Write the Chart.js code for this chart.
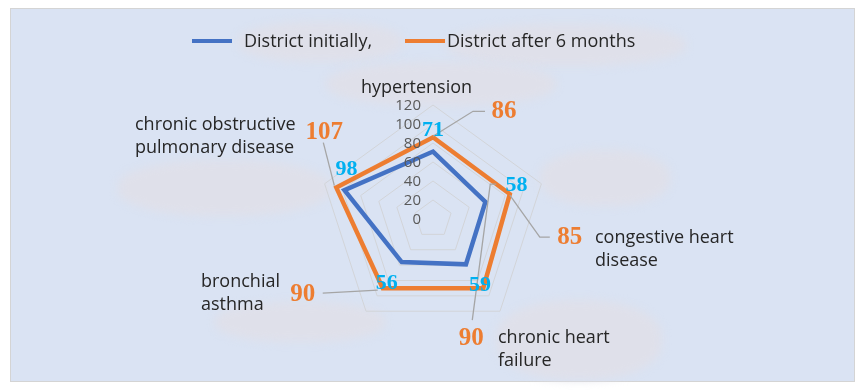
<!DOCTYPE html>
<html>
<head>
<meta charset="utf-8">
<script src="https://cdn.jsdelivr.net/npm/chart.js@4.4.1/dist/chart.umd.min.js"></script>
<style>
  html, body { margin: 0; padding: 0; background: #ffffff; }
  #wrap { position: relative; width: 865px; height: 392px; overflow: hidden; }
  #panel { position: absolute; left: 10px; top: 8px; width: 843px; height: 372px; background: #dae3f3; border: 1px solid #d4d4d4; }
  .blob { position: absolute; background: #dfe0ea; border-radius: 45%; filter: blur(4px); }
  #chart { position: absolute; left: 0; top: 0; }
  #legend { position: absolute; left: 0; top: 0; font-family: "Open Sans", sans-serif; font-size: 18px; color: #262626; }
  .lg-line { position: absolute; height: 4px; }
  .lg-text { position: absolute; white-space: nowrap; line-height: 20px; }
</style>
</head>
<body>
<div id="wrap">
  <div id="panel"></div>
  <div class="blob" style="left:238px;top:22px;width:165px;height:40px;"></div>
  <div class="blob" style="left:446px;top:24px;width:240px;height:42px;"></div>
  <div class="blob" style="left:326px;top:62px;width:230px;height:44px;"></div>
  <div class="blob" style="left:540px;top:150px;width:130px;height:56px;"></div>
  <div class="blob" style="left:118px;top:160px;width:212px;height:56px;"></div>
  <div class="blob" style="left:496px;top:300px;width:166px;height:80px;"></div>
  <div class="blob" style="left:215px;top:302px;width:170px;height:40px;"></div>
  <canvas id="chart" width="865" height="392"></canvas>
  <div id="legend"></div>
</div>
<script>
// categories, series, scale
const categories = ["hypertension", "congestive heart disease", "chronic heart failure", "bronchial asthma", "chronic obstructive pulmonary disease"];
const categoryLines = [["hypertension"], ["congestive heart", "disease"], ["chronic heart", "failure"], ["bronchial", "asthma"], ["chronic obstructive", "pulmonary disease"]];
const seriesNames = ["District initially,", "District after 6 months"];
const initialValues = [71, 58, 59, 56, 98];
const afterValues = [86, 85, 90, 90, 107];
const scaleMin = 0;
const scaleMax = 120;
const scaleStep = 20;

const BLUE = "#4472c4";
const ORANGE = "#ed7d31";
const LABEL_BLUE = "#00b0f0";

// label placement (offsets from the data point), Excel-style dragged labels
const blueLabelOffsets = [[0, -21], [31, -17], [14, 21], [-15, 21], [2, -21]];
const orangeLabelOffsets = [[71, -26], [60, 43], [-12, 50], [-80, 6], [-12, -55]];
const orangeLeaders = [
  [[52, -26], [40, -26], [0, -1]],
  [[40, 43], [30, 43], [0, 1]],
  [[-11, 32], [7, -104], [13, -104]],
  [[-60, 5], [-5, 2]],
  [[-13, -45], [-2, -2]],
];
// category label offsets from scale centre (left edge, first line middle)
const catOffsets = [[-72, -131], [162, 19], [65, 119], [-232, 63], [-298, -94]];

// HTML legend
const legendEl = document.getElementById("legend");
const legendPos = [{ line: 192, text: 244 }, { line: 405, text: 447 }];
[BLUE, ORANGE].forEach((c, i) => {
  legendEl.innerHTML += `<div class="lg-line" style="left:${legendPos[i].line}px;top:39px;width:40px;background:${c}"></div>` +
    `<div class="lg-text" style="left:${legendPos[i].text}px;top:30px">${seriesNames[i]}</div>`;
});

const annotate = {
  id: "annotate",
  afterDatasetsDraw(chart) {
    const ctx = chart.ctx;
    const r = chart.scales.r;
    const pt = (i, v) => r.getPointPositionForValue(i, v);

    // tick labels, right aligned left of the vertical axis
    ctx.save();
    ctx.font = '15px "Open Sans", sans-serif';
    ctx.fillStyle = "#595959";
    ctx.textAlign = "right";
    ctx.textBaseline = "middle";
    r.ticks.forEach((t) => {
      const d = r.getDistanceFromCenterForValue(t.value);
      ctx.fillText(t.label, r.xCenter - 12, r.yCenter - d + 1);
    });
    ctx.restore();

    // leader lines
    ctx.save();
    ctx.strokeStyle = "#a5a5a5";
    ctx.lineWidth = 1.3;
    afterValues.forEach((v, i) => {
      const p = pt(i, v);
      ctx.beginPath();
      orangeLeaders[i].forEach(([dx, dy], k) => {
        if (k === 0) ctx.moveTo(p.x + dx, p.y + dy);
        else ctx.lineTo(p.x + dx, p.y + dy);
      });
      ctx.stroke();
    });
    ctx.restore();

    // data labels
    ctx.save();
    ctx.textAlign = "center";
    ctx.textBaseline = "middle";
    ctx.font = 'bold 22px "Liberation Serif", serif';
    ctx.fillStyle = LABEL_BLUE;
    initialValues.forEach((v, i) => {
      const p = pt(i, v);
      ctx.fillText(String(v), p.x + blueLabelOffsets[i][0], p.y + blueLabelOffsets[i][1]);
    });
    ctx.font = 'bold 25px "Liberation Serif", serif';
    ctx.fillStyle = ORANGE;
    afterValues.forEach((v, i) => {
      const p = pt(i, v);
      ctx.fillText(String(v), p.x + orangeLabelOffsets[i][0], p.y + orangeLabelOffsets[i][1]);
    });
    ctx.restore();

    // category labels
    ctx.save();
    ctx.font = '18px "Open Sans", sans-serif';
    ctx.fillStyle = "#262626";
    ctx.textAlign = "left";
    ctx.textBaseline = "middle";
    categoryLines.forEach((lines, i) => {
      lines.forEach((ln, k) => {
        ctx.fillText(ln, r.xCenter + catOffsets[i][0], r.yCenter + catOffsets[i][1] + k * 22.5);
      });
    });
    ctx.restore();
  },
};

new Chart(document.getElementById("chart"), {
  type: "radar",
  data: {
    labels: categories,
    datasets: [
      {
        label: seriesNames[0],
        data: initialValues,
        borderColor: BLUE,
        backgroundColor: "transparent",
        borderWidth: 4.5,
        borderJoinStyle: "miter",
        pointRadius: 0,
        fill: false,
        order: 2,
      },
      {
        label: seriesNames[1],
        data: afterValues,
        borderColor: ORANGE,
        backgroundColor: "transparent",
        borderWidth: 4.5,
        borderJoinStyle: "miter",
        pointRadius: 0,
        fill: false,
        order: 1,
      },
    ],
  },
  options: {
    responsive: false,
    animation: false,
    layout: { padding: { top: 105, bottom: 59, left: 319, right: 318 } },
    plugins: {
      legend: { display: false },
      tooltip: { enabled: false },
    },
    scales: {
      r: {
        min: scaleMin,
        max: scaleMax,
        ticks: { stepSize: scaleStep, display: false },
        pointLabels: { display: false },
        grid: { color: "#d2d4d8", lineWidth: 1 },
        angleLines: { display: false },
      },
    },
  },
  plugins: [annotate],
});
</script>
</body>
</html>
